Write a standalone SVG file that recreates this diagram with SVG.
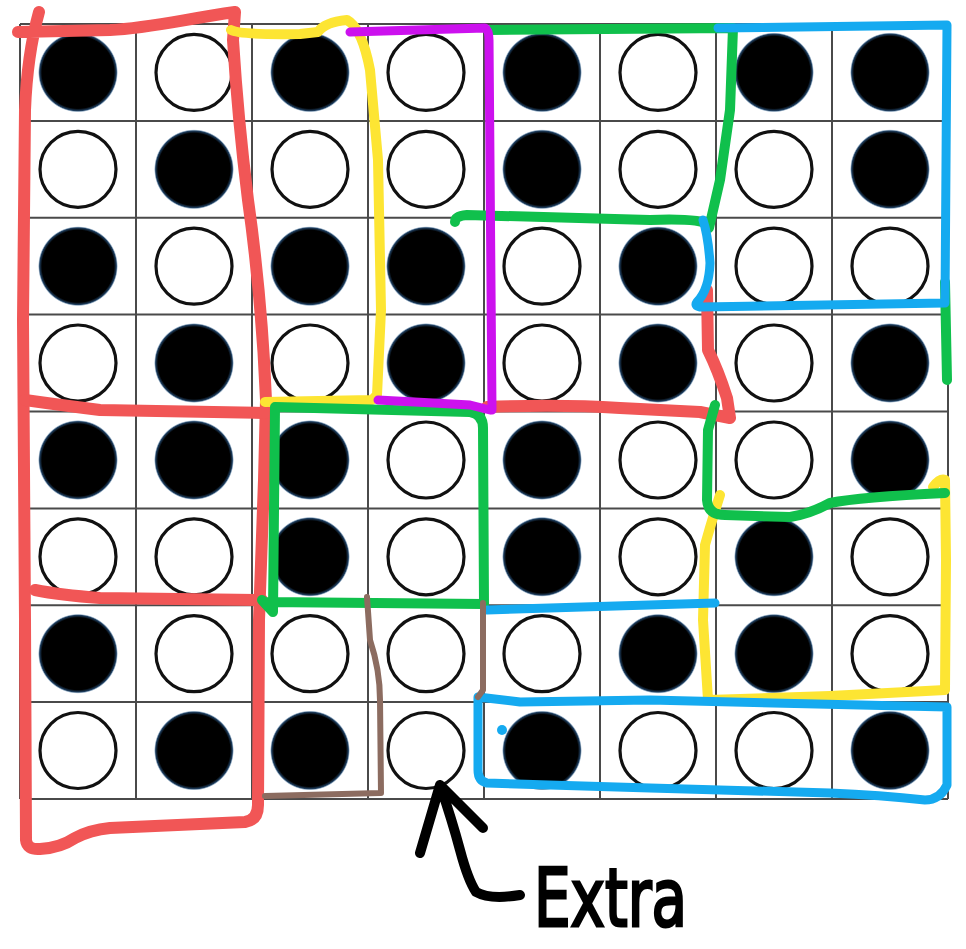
<svg xmlns="http://www.w3.org/2000/svg" width="966" height="949" viewBox="0 0 966 949">
<style>
.grid line{stroke:#4a4a4a;stroke-width:2}
.w{fill:#fff;stroke:#111;stroke-width:3.2}
.b{fill:url(#bg)}
.mk{fill:none;stroke-linecap:round;stroke-linejoin:round}
.red{stroke:#f15656;stroke-width:12}
.yel{stroke:#fde533;stroke-width:10}
.grn{stroke:#10c04c;stroke-width:10}
.pur{stroke:#cc11ee;stroke-width:9}
.blu{stroke:#15aaf0;stroke-width:9}
.brn{stroke:#8c6c60;stroke-width:6}
.arr{stroke:#000;stroke-width:10}
</style>
<defs>
<radialGradient id="bg" cx="0.5" cy="0.5" r="0.5">
<stop offset="0" stop-color="#000"/>
<stop offset="0.9" stop-color="#000"/>
<stop offset="0.96" stop-color="#1f3f60"/>
<stop offset="1" stop-color="#6a98c0" stop-opacity="0"/>
</radialGradient>
</defs>
<rect width="966" height="949" fill="#fff"/>
<g id="grid" class="grid">
<line x1="20" y1="24" x2="948" y2="24"/>
<line x1="20" y1="120.9" x2="948" y2="120.9"/>
<line x1="20" y1="217.75" x2="948" y2="217.75"/>
<line x1="20" y1="314.6" x2="948" y2="314.6"/>
<line x1="20" y1="411.5" x2="948" y2="411.5"/>
<line x1="20" y1="508.4" x2="948" y2="508.4"/>
<line x1="20" y1="605.25" x2="948" y2="605.25"/>
<line x1="20" y1="702.1" x2="948" y2="702.1"/>
<line x1="20" y1="799" x2="948" y2="799"/>
<line x1="20" y1="24" x2="20" y2="799"/>
<line x1="136" y1="24" x2="136" y2="799"/>
<line x1="252" y1="24" x2="252" y2="799"/>
<line x1="368" y1="24" x2="368" y2="799"/>
<line x1="484" y1="24" x2="484" y2="799"/>
<line x1="600" y1="24" x2="600" y2="799"/>
<line x1="716" y1="24" x2="716" y2="799"/>
<line x1="832" y1="24" x2="832" y2="799"/>
<line x1="948" y1="24" x2="948" y2="799"/>
</g>
<g id="circles">
<g id="row0">
<circle class="b" cx="78" cy="72.4" r="40"/><circle class="w" cx="194" cy="72.4" r="38"/><circle class="b" cx="310" cy="72.4" r="40"/><circle class="w" cx="426" cy="72.4" r="38"/><circle class="b" cx="542" cy="72.4" r="40"/><circle class="w" cx="658" cy="72.4" r="38"/><circle class="b" cx="774" cy="72.4" r="40"/><circle class="b" cx="890" cy="72.4" r="40"/>
</g>
<g id="row1">
<circle class="w" cx="78" cy="169.3" r="38"/><circle class="b" cx="194" cy="169.3" r="40"/><circle class="w" cx="310" cy="169.3" r="38"/><circle class="w" cx="426" cy="169.3" r="38"/><circle class="b" cx="542" cy="169.3" r="40"/><circle class="w" cx="658" cy="169.3" r="38"/><circle class="w" cx="774" cy="169.3" r="38"/><circle class="b" cx="890" cy="169.3" r="40"/>
</g>
<g id="row2">
<circle class="b" cx="78" cy="266.2" r="40"/><circle class="w" cx="194" cy="266.2" r="38"/><circle class="b" cx="310" cy="266.2" r="40"/><circle class="b" cx="426" cy="266.2" r="40"/><circle class="w" cx="542" cy="266.2" r="38"/><circle class="b" cx="658" cy="266.2" r="40"/><circle class="w" cx="774" cy="266.2" r="38"/><circle class="w" cx="890" cy="266.2" r="38"/>
</g>
<g id="row3">
<circle class="w" cx="78" cy="363" r="38"/><circle class="b" cx="194" cy="363" r="40"/><circle class="w" cx="310" cy="363" r="38"/><circle class="b" cx="426" cy="363" r="40"/><circle class="w" cx="542" cy="363" r="38"/><circle class="b" cx="658" cy="363" r="40"/><circle class="w" cx="774" cy="363" r="38"/><circle class="b" cx="890" cy="363" r="40"/>
</g>
<g id="row4">
<circle class="b" cx="78" cy="460" r="40"/><circle class="b" cx="194" cy="460" r="40"/><circle class="b" cx="310" cy="460" r="40"/><circle class="w" cx="426" cy="460" r="38"/><circle class="b" cx="542" cy="460" r="40"/><circle class="w" cx="658" cy="460" r="38"/><circle class="w" cx="774" cy="460" r="38"/><circle class="b" cx="890" cy="460" r="40"/>
</g>
<g id="row5">
<circle class="w" cx="78" cy="556.8" r="38"/><circle class="w" cx="194" cy="556.8" r="38"/><circle class="b" cx="310" cy="556.8" r="40"/><circle class="w" cx="426" cy="556.8" r="38"/><circle class="b" cx="542" cy="556.8" r="40"/><circle class="w" cx="658" cy="556.8" r="38"/><circle class="b" cx="774" cy="556.8" r="40"/><circle class="w" cx="890" cy="556.8" r="38"/>
</g>
<g id="row6">
<circle class="b" cx="78" cy="653.7" r="40"/><circle class="w" cx="194" cy="653.7" r="38"/><circle class="w" cx="310" cy="653.7" r="38"/><circle class="w" cx="426" cy="653.7" r="38"/><circle class="w" cx="542" cy="653.7" r="38"/><circle class="b" cx="658" cy="653.7" r="40"/><circle class="b" cx="774" cy="653.7" r="40"/><circle class="w" cx="890" cy="653.7" r="38"/>
</g>
<g id="row7">
<circle class="w" cx="78" cy="750.5" r="38"/><circle class="b" cx="194" cy="750.5" r="40"/><circle class="b" cx="310" cy="750.5" r="40"/><circle class="w" cx="426" cy="750.5" r="38"/><circle class="b" cx="542" cy="750.5" r="40"/><circle class="w" cx="658" cy="750.5" r="38"/><circle class="w" cx="774" cy="750.5" r="38"/><circle class="b" cx="890" cy="750.5" r="40"/>
</g>
</g>
<g id="markings" class="mk">
<g id="red" class="mk red">
<path d="M39,12 C34,30 27,60 25,110 L23,320 L25,620 L26,840 Q27,850 40,849 Q60,848 75,838 Q90,830 110,828 L245,822 Q258,820 258,805 L259,620 L264,480 L266,400 Q262,300 248,200 Q238,120 233,40 L235,12 C180,20 150,28 110,30 L18,32"/>
<path d="M25,400 Q60,405 100,410 L265,413"/>
<path d="M35,590 Q60,595 100,598 L262,600"/>
<path d="M487,407 Q560,404 620,408 L700,412 L730,418 L727,398 Q718,370 708,350 L707,290"/>
</g>
<g id="yellow" class="mk yel">
<path d="M231,30 Q240,35 300,34 L318,32 Q325,22 347,20 Q362,28 370,70 L378,160 L381,310 L377,395 L372,400 L265,402"/>
<path d="M720,495 Q712,520 705,545 L703,620 L708,700 L830,696 L945,690 L946,560 L945,480 Q940,478 933,487"/>
</g>
<g id="green" class="mk grn">
<path d="M490,30 L733,28 L730,110 L720,180 L709,228 M709,225 Q700,218 650,220 L467,215 Q455,216 455,222"/>
<path d="M262,600 L273,612 L275,407 L470,412 Q483,414 483,428 L484,604 L265,602"/>
<path d="M715,405 L708,430 L707,500 Q708,515 725,515 L790,517 Q810,514 830,503 Q860,497 945,493"/>
<path d="M945,282 L947,380"/>
</g>
<g id="purple" class="mk pur">
<path d="M350,32 L485,28 Q489,30 489,40 L492,410"/>
<path d="M378,400 L470,405 L490,410"/>
</g>
<g id="blue" class="mk blu">
<path d="M718,28 L947,25 L945,303 L700,307 Q694,306 697,302 Q709,290 710,263 Q708,235 703,220"/>
<path d="M487,610 L715,603"/>
<path d="M478,697 L520,702 L650,700 L947,707 L947,785 Q940,800 925,800 Q880,795 830,793 L650,788 L487,783 Q478,781 478,770 Z"/>
<circle cx="502" cy="730" r="5" fill="#15aaf0" stroke="none"/>
</g>
<g id="brown" class="mk brn">
<path d="M367,597 L370,640 Q380,670 380,700 L381,793 L265,796"/>
<path d="M483,603 L483,690 L478,697"/>
</g>
</g>
<g id="connectors" class="mk">
<path class="mk arr" d="M420,853 L440,785 L483,828 M440,785 Q452,820 460,850 Q468,880 476,892 Q490,900 520,895"/>
</g>
<g id="label">
<text x="534" y="926" font-family="DejaVu Sans, sans-serif" font-size="80" stroke="#000" stroke-width="3" textLength="153" lengthAdjust="spacingAndGlyphs">Extra</text>
</g>
</svg>
